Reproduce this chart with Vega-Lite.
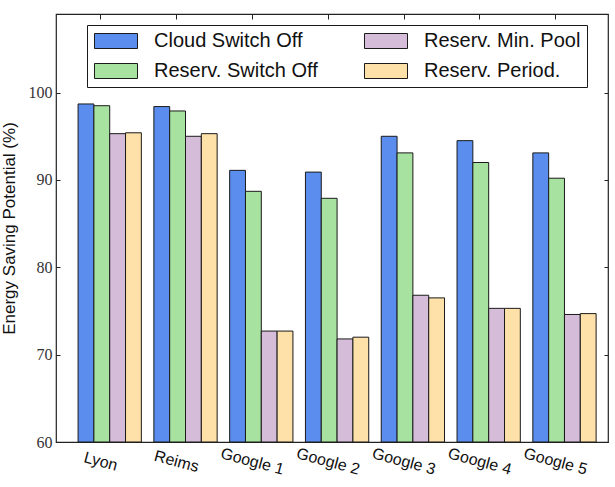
{
  "$schema": "https://vega.github.io/schema/vega-lite/v6.json",
  "width": 552,
  "height": 428,
  "autosize": {"type": "none"},
  "padding": {"left": 56, "top": 14, "right": 7, "bottom": 45},
  "background": "#ffffff",
  "config": {
    "view": {"stroke": "#222222", "strokeWidth": 1.2},
    "font": "Liberation Sans"
  },
  "data": {
    "values": [
      {"site": "Lyon", "method": "Cloud Switch Off", "value": 98.7},
      {"site": "Lyon", "method": "Reserv. Switch Off", "value": 98.5},
      {"site": "Lyon", "method": "Reserv. Min. Pool", "value": 95.3},
      {"site": "Lyon", "method": "Reserv. Period.", "value": 95.4},
      {"site": "Reims", "method": "Cloud Switch Off", "value": 98.4},
      {"site": "Reims", "method": "Reserv. Switch Off", "value": 97.9},
      {"site": "Reims", "method": "Reserv. Min. Pool", "value": 95.0},
      {"site": "Reims", "method": "Reserv. Period.", "value": 95.3},
      {"site": "Google 1", "method": "Cloud Switch Off", "value": 91.1},
      {"site": "Google 1", "method": "Reserv. Switch Off", "value": 88.7},
      {"site": "Google 1", "method": "Reserv. Min. Pool", "value": 72.7},
      {"site": "Google 1", "method": "Reserv. Period.", "value": 72.7},
      {"site": "Google 2", "method": "Cloud Switch Off", "value": 90.9},
      {"site": "Google 2", "method": "Reserv. Switch Off", "value": 87.9},
      {"site": "Google 2", "method": "Reserv. Min. Pool", "value": 71.8},
      {"site": "Google 2", "method": "Reserv. Period.", "value": 72.0},
      {"site": "Google 3", "method": "Cloud Switch Off", "value": 95.0},
      {"site": "Google 3", "method": "Reserv. Switch Off", "value": 93.1},
      {"site": "Google 3", "method": "Reserv. Min. Pool", "value": 76.8},
      {"site": "Google 3", "method": "Reserv. Period.", "value": 76.5},
      {"site": "Google 4", "method": "Cloud Switch Off", "value": 94.5},
      {"site": "Google 4", "method": "Reserv. Switch Off", "value": 92.0},
      {"site": "Google 4", "method": "Reserv. Min. Pool", "value": 75.3},
      {"site": "Google 4", "method": "Reserv. Period.", "value": 75.3},
      {"site": "Google 5", "method": "Cloud Switch Off", "value": 93.1},
      {"site": "Google 5", "method": "Reserv. Switch Off", "value": 90.2},
      {"site": "Google 5", "method": "Reserv. Min. Pool", "value": 74.6},
      {"site": "Google 5", "method": "Reserv. Period.", "value": 74.7}
    ]
  },
  "encoding": {
    "x": {
      "field": "site",
      "type": "nominal",
      "sort": ["Lyon", "Reims", "Google 1", "Google 2", "Google 3", "Google 4", "Google 5"],
      "scale": {"paddingInner": 0.165, "paddingOuter": 0.224, "align": 0.65}
    },
    "y": {
      "field": "value",
      "type": "quantitative",
      "scale": {"domain": [60, 109], "zero": false, "nice": false}
    },
    "y2": {"datum": 60}
  },
  "layer": [
    {
      "mark": {"type": "bar", "stroke": "#1a1a1a", "strokeWidth": 1, "fillOpacity": 1},
      "encoding": {
        "x": {
          "field": "site",
          "type": "nominal",
          "sort": ["Lyon", "Reims", "Google 1", "Google 2", "Google 3", "Google 4", "Google 5"],
          "axis": {
            "orient": "bottom",
            "title": null,
            "domain": false,
            "ticks": false,
            "labelAngle": 15,
            "labelAlign": "center",
            "labelBaseline": "middle",
            "labelOffset": -9,
            "labelPadding": 19,
            "labelFont": "Liberation Sans",
            "labelFontSize": 16,
            "labelColor": "#111111"
          }
        },
        "xOffset": {
          "field": "method",
          "type": "nominal",
          "sort": ["Cloud Switch Off", "Reserv. Switch Off", "Reserv. Min. Pool", "Reserv. Period."],
          "scale": {"paddingInner": 0, "paddingOuter": 0}
        },
        "y": {
          "field": "value",
          "type": "quantitative",
          "axis": {
            "orient": "left",
            "title": "Energy Saving Potential (%)",
            "titleFont": "Liberation Sans",
            "titleFontSize": 17,
            "titleFontWeight": "normal",
            "titleColor": "#111111",
            "titlePadding": 10,
            "values": [60, 70, 80, 90, 100],
            "domain": false,
            "grid": false,
            "tickSize": -4,
            "tickColor": "#222222",
            "labelPadding": 8,
            "labelFont": "Liberation Serif",
            "labelFontSize": 16,
            "labelColor": "#333333"
          }
        },
        "color": {
          "field": "method",
          "type": "nominal",
          "scale": {
            "domain": ["Cloud Switch Off", "Reserv. Switch Off", "Reserv. Min. Pool", "Reserv. Period."],
            "range": ["#5a8ded", "#a7e2a0", "#d5bcd9", "#fde1a9"]
          },
          "legend": {
            "orient": "none",
            "legendX": 31,
            "legendY": 11,
            "columns": 2,
            "title": null,
            "symbolType": "M-2.867,-1H2.867V1H-2.867Z",
            "symbolSize": 225,
            "symbolStrokeColor": "#1a1a1a",
            "symbolStrokeWidth": 1,
            "symbolOffset": 13,
            "labelOffset": 28,
            "labelFont": "Liberation Sans",
            "labelFontSize": 20,
            "labelColor": "#111111",
            "labelLimit": 300,
            "rowPadding": 10,
            "columnPadding": 44,
            "padding": 6,
            "strokeColor": "#1a1a1a",
            "fillColor": "#ffffff",
            "cornerRadius": 0
          }
        }
      }
    },
    {
      "mark": {"type": "bar", "opacity": 0},
      "encoding": {
        "x": {
          "field": "site",
          "type": "nominal",
          "sort": ["Lyon", "Reims", "Google 1", "Google 2", "Google 3", "Google 4", "Google 5"],
          "axis": {
            "orient": "top",
            "title": null,
            "domain": false,
            "labels": false,
            "bandPosition": 0.36,
            "tickSize": -5,
            "tickColor": "#222222"
          }
        },
        "y": {
          "field": "value",
          "type": "quantitative",
          "axis": {
            "orient": "right",
            "title": null,
            "values": [60, 70, 80, 90, 100],
            "domain": false,
            "grid": false,
            "labels": false,
            "tickSize": -4,
            "tickColor": "#222222"
          }
        }
      }
    }
  ],
  "resolve": {
    "scale": {"x": "shared", "y": "shared"},
    "axis": {"x": "independent", "y": "independent"}
  }
}
